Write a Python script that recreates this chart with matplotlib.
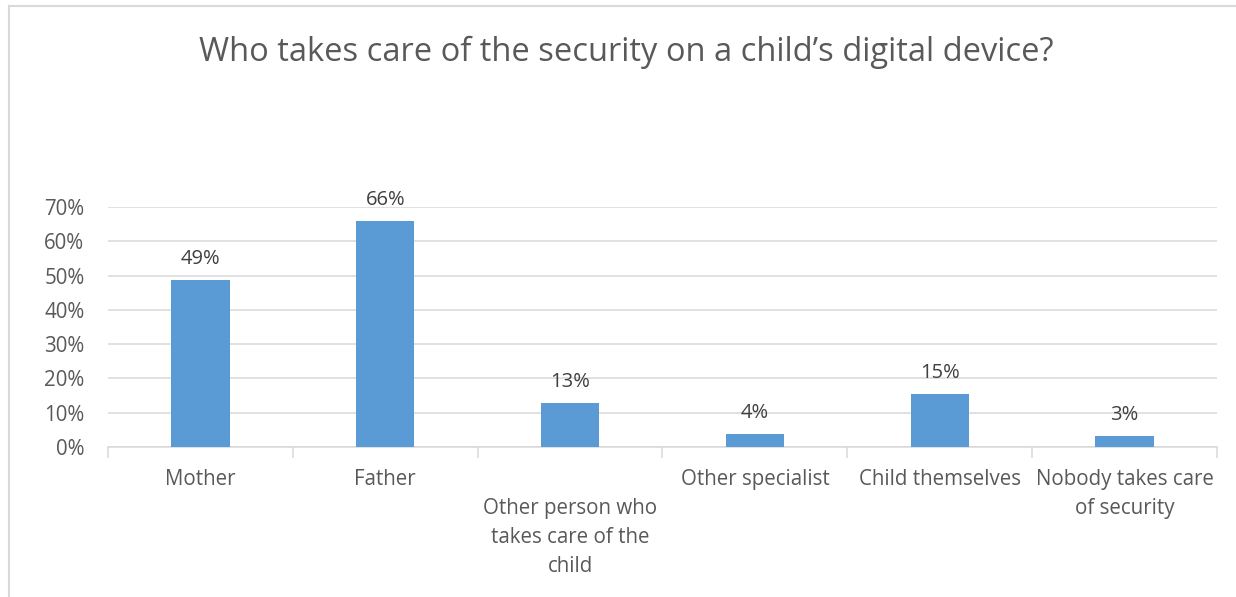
import numpy as np
import matplotlib
matplotlib.use("Agg")
from matplotlib import pyplot as plt
from matplotlib.lines import Line2D
from matplotlib.ticker import FuncFormatter, MultipleLocator
from matplotlib.transforms import blended_transform_factory


# survey answers (share of respondents)
categories = [
    "Mother",
    "Father",
    "Other person who\ntakes care of the\nchild",
    "Other specialist",
    "Child themselves",
    "Nobody takes care\nof security",
]
shares = [0.486, 0.659, 0.129, 0.038, 0.154, 0.033]

TITLE = "Who takes care of the security on a child\u2019s digital device?"
BAR_COLOR = "#5B9BD5"
GRID_COLOR = "#D9D9D9"
TEXT_COLOR = "#595959"
LABEL_COLOR = "#404040"

plt.rcParams["font.family"] = ["Open Sans", "DejaVu Sans"]

fig = plt.figure(figsize=(12.36, 5.97), dpi=100)
fig.patch.set_facecolor("white")

# thin outer frame of the chart area (left and top edges visible)
fig.add_artist(Line2D([8.5 / 1236, 8.5 / 1236], [0, 1 - 5.5 / 597],
                      transform=fig.transFigure, color=GRID_COLOR, lw=1.5))
fig.add_artist(Line2D([8.5 / 1236, 1], [1 - 5.5 / 597, 1 - 5.5 / 597],
                      transform=fig.transFigure, color=GRID_COLOR, lw=1.5))

ax = fig.add_axes([108 / 1236, 150 / 597, 1109 / 1236, 240 / 597])

x = np.arange(len(categories))
bars = ax.bar(x, shares, width=0.315, color=BAR_COLOR, zorder=3)

for rect, val in zip(bars, shares):
    ax.annotate(f"{val * 100:.0f}%",
                xy=(rect.get_x() + rect.get_width() / 2, rect.get_height()),
                xytext=(0, 8), textcoords="offset points",
                ha="center", va="bottom", fontsize=14.5, color=LABEL_COLOR)

ax.set_xlim(-0.5, len(categories) - 0.5)
ax.set_ylim(0, 0.7)
ax.yaxis.set_major_locator(MultipleLocator(0.1))
ax.yaxis.set_major_formatter(FuncFormatter(lambda v, _: f"{v * 100:.0f}%"))
ax.grid(axis="y", color=GRID_COLOR, lw=1.1, zorder=0)

for side in ["top", "right", "left"]:
    ax.spines[side].set_visible(False)
ax.spines["bottom"].set_color(GRID_COLOR)
ax.spines["bottom"].set_linewidth(1.1)

# category separators as ticks
ax.set_xticks(np.arange(len(categories) + 1) - 0.5)
ax.set_xticklabels([])
ax.tick_params(axis="x", which="major", length=8, color=GRID_COLOR, width=1.1)
ax.tick_params(axis="y", length=0, pad=17, labelsize=14.8, labelcolor=TEXT_COLOR)

# category names under each bar; the three-line one sits a line lower
trans = blended_transform_factory(ax.transData, ax.transAxes)
for i, name in enumerate(categories):
    drop = 21 if name.count("\n") >= 2 else 0
    ax.annotate(name, xy=(x[i], 0), xycoords=trans,
                xytext=(0, -16 - drop), textcoords="offset points",
                ha="center", va="top", fontsize=14.8, color=TEXT_COLOR,
                linespacing=1.5, annotation_clip=False)

fig.text(0.507, 1 - 52 / 597, TITLE, ha="center", va="center",
         fontsize=23.5, color=TEXT_COLOR)

fig.savefig("out.png", dpi=100)
